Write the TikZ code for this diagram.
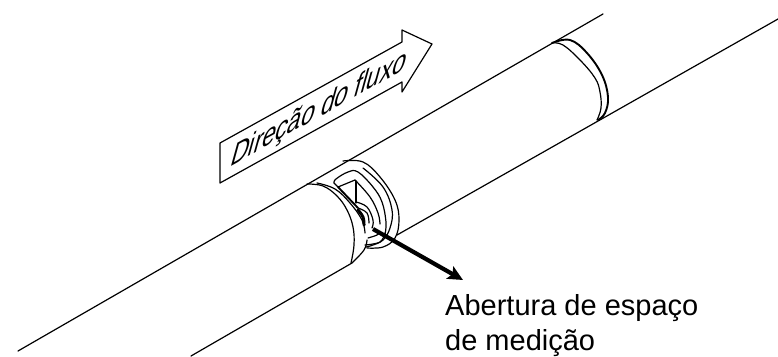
\documentclass[tikz,border=0pt]{standalone}
\usepackage{fontspec}
\setmainfont{Liberation Sans}
\usetikzlibrary{arrows.meta}
\tikzset{ln/.style={draw=black,line width=1.2pt,line cap=round,line join=round},
thk/.style={draw=black,line width=1.9pt,line cap=round},
lab/.style={font=\fontsize{29}{35}\selectfont,align=left,anchor=north west,inner sep=0pt},
sm/.style={smooth,tension=.65}}
\begin{document}
\begin{tikzpicture}[x=1pt,y=-1pt]
\useasboundingbox (0,0) rectangle (778,356);
\fill[white] (0,0) rectangle (778,356);
% pipe lines
\draw[ln] (18,351) -- (603,14);
\draw[ln] (191,356) -- (352,263);
\draw[ln] (397,235) -- (778,19);
% right band
\draw[thk] plot[sm] coordinates {(552,43) (570,40) (587,53) (602,75) (608,97) (605,113) (598,120)};
\draw[ln] plot[sm] coordinates {(552,43) (563,45) (580,60) (595,78) (600,92) (601,108) (597,120)};
% left body end
\draw[ln] plot[sm] coordinates {(307,184) (323,186) (337,196) (347,210) (353,227) (354,245) (351,263)};
\draw[ln] plot[sm] coordinates {(317,183) (335,189) (350,203) (362,220) (365,233)};
\draw[ln] plot[sm] coordinates {(367,240) (364,250) (352,263)};
% flange
\draw[ln] plot[sm] coordinates {(343,161) (363,162) (380,177) (395,200) (399,220) (395,238) (383,247) (367,248)};
\draw[ln] plot[sm] coordinates {(363,168) (383,187) (392,210) (390,228) (383,240) (373,245) (366,247)};
% slot
\draw[ln] plot[sm] coordinates {(334,183) (336,179) (348,172) (358,172) (373,187) (382,202) (386,222) (385,234)};
\draw[ln] (334,183) -- (338,187) -- (355,180);
\draw[ln] plot[sm] coordinates {(355,180) (370,197) (378,213) (380,224)};
\draw[thk] (338,187) -- (358,208);
\draw[ln] (356,181) -- (356,203);
% opening
\draw[ln] plot[sm] coordinates {(356,202) (367,207) (373,220) (372,228)};
\draw[ln] plot[sm] coordinates {(358,208) (367,213) (369,223)};
\draw[line width=3pt,line cap=round] plot[sm] coordinates {(358,210) (363,217) (364,225)};
\draw[ln] plot[sm] coordinates {(365,245) (380,242) (385,233)};
\draw[ln] plot[sm] coordinates {(368,238) (377,235) (380,232)};
% pointer
\coordinate (ps) at (373,229);
\coordinate (pe) at (463,280);
\draw[line width=4.2pt,-{Stealth[length=15pt,width=14pt,inset=3pt]}] (ps) -- (pe);
% flow arrow
\draw[ln,fill=white] (220,143) -- (402,42) -- (402,30) -- (432,44) -- (402,92) -- (402,82) -- (220,183) -- cycle;
\begin{scope}[shift={(319,110)},cm={.93,.515,.36,1.3,(0,0)}]
\node[font=\fontsize{26}{31}\selectfont,inner sep=0pt,transform shape] (flow) at (0,0) {Direção do fluxo};
\end{scope}
\node[lab] (open) at (445,294) {Abertura de espaço\\de medição};
\end{tikzpicture}
\end{document}
